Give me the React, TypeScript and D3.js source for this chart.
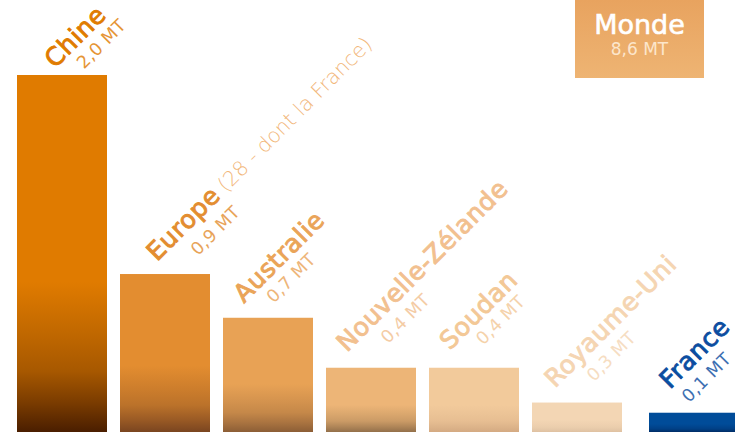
import React from "react";
import * as d3 from "d3";

// ---- data ----
const categories = ["Chine", "Europe", "Australie", "Nouvelle-Zélande", "Soudan", "Royaume-Uni", "France"];
const values = [2.0, 0.885, 0.64, 0.36, 0.36, 0.165, 0.108];
const valueLabels = ["2,0 MT", "0,9 MT", "0,7 MT", "0,4 MT", "0,4 MT", "0,3 MT", "0,1 MT"];
const notes = ["", "(28 - dont la France)", "", "", "", "", ""];
const worldName = "Monde";
const worldValue = "8,6 MT";

// ---- styles ----
const barTop = ["#E07B00", "#E38D30", "#E8A255", "#EDB577", "#F2CA9B", "#F3D6B4", "#004C99"];
const barBottom = ["#4A1E00", "#7A4520", "#8C5E36", "#93704A", "#D4AA82", "#DFC1A2", "#002D66"];
const nameColors = ["#E07B00", "#E38D30", "#EAA458", "#F2C08F", "#F3C896", "#F5D5B2", "#0B4DA0"];
const noteColor = "#F2B77A";
const extraGap = [0, 0, 0, 0, 0, 0, 14];
// label offsets: [dx from bar left, dy from bar top, value along, value perp]
const labelLayout = [
  [38, -6, 20, 21],
  [37, -12, 33, 25],
  [21, -14, 21, 21],
  [21, -15, 35, 23],
  [21, -17, 27, 20],
  [23, -14, 32, 23],
  [21, -23, 4, 23],
];

const W = 735;
const H = 432;
const FONT = "'DejaVu Sans', sans-serif";

export default function App() {
  const x = d3.scaleBand<string>().domain(categories).range([17, 725]).paddingInner(13 / 103).paddingOuter(0);
  const bx = (c: string, i: number) => x(c)! + extraGap[i];
  const y = d3.scaleLinear().domain([0, 2.0]).range([H, 75]);
  const rampStops: [number, number][] = [
    [0, 0], [0.58, 0], [0.73, 0.22], [0.83, 0.38], [0.92, 0.69], [1, 1],
  ];

  return (
    <svg width={W} height={H} style={{ position: "absolute", left: 0, top: 0, display: "block" }} fontFamily={FONT}>
      <defs>
        {categories.map((c, i) => {
          const interp = d3.interpolateRgb(barTop[i], barBottom[i]);
          return (
            <linearGradient key={c} id={`g${i}`} x1="0" y1="0" x2="0" y2="1">
              {rampStops.map(([o, t], k) => (
                <stop key={k} offset={o} stopColor={interp(t)} />
              ))}
            </linearGradient>
          );
        })}
        <linearGradient id="worldG" x1="0" y1="0" x2="0" y2="1">
          <stop offset="0" stopColor="#E8A35F" />
          <stop offset="1" stopColor="#EEB473" />
        </linearGradient>
      </defs>
      <rect width={W} height={H} fill="#ffffff" />

      {categories.map((c, i) => {
        const by = y(values[i]);
        return (
          <rect key={c} x={bx(c, i)} y={by} width={x.bandwidth()} height={y(0) - by} fill={`url(#g${i})`} />
        );
      })}

      {categories.map((c, i) => {
        const [dx, dy, along, perp] = labelLayout[i];
        const ax = bx(c, i) + dx;
        const ay = y(values[i]) + dy;
        return (
          <g key={c} transform={`translate(${ax},${ay}) rotate(-45)`}>
            <text x={0} y={0} fontSize={25} letterSpacing={0.6} fill={nameColors[i]} stroke={nameColors[i]} strokeWidth={0.9}>
              {c}
              {notes[i] ? (
                <tspan dx={6} fontSize={20.5} letterSpacing={0} fontWeight={300} fill={noteColor} stroke="none">
                  {notes[i]}
                </tspan>
              ) : null}
            </text>
            <text x={along} y={perp} fontSize={17.5} letterSpacing={0.3} fill={nameColors[i]} opacity={0.8}>
              {valueLabels[i]}
            </text>
          </g>
        );
      })}

      <g>
        <rect x={575} y={0} width={129} height={78} fill="url(#worldG)" />
        <text x={639.5} y={34} textAnchor="middle" fontSize={27} fill="#ffffff" stroke="#ffffff" strokeWidth={0.6}>
          {worldName}
        </text>
        <text x={639.5} y={55} textAnchor="middle" fontSize={17} fill="#FCE6CC">
          {worldValue}
        </text>
      </g>
    </svg>
  );
}
